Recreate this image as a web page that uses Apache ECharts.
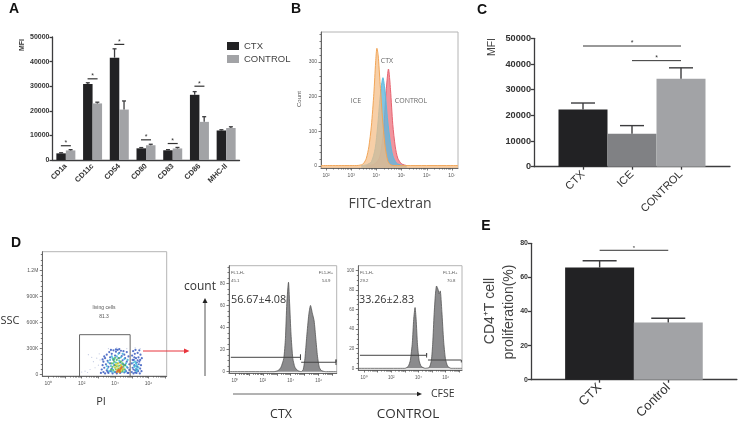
<!DOCTYPE html>
<html><head><meta charset="utf-8">
<style>html,body{margin:0;padding:0;background:#fff}#c{width:739px;height:425px}</style>
<script src="https://cdn.jsdelivr.net/npm/echarts@6/dist/echarts.min.js"></script>
</head><body><div id="c"></div>
<script>
// ---------- Panel A
const aCategories = ['CD1a','CD11c','CD54','CD80','CD83','CD86','MHC-II'];
const aCtx = [2700,30900,41600,4750,3950,26500,12000];
const aControl = [3900,23000,20500,6000,4700,15500,13000];
const aCtxTop = [2950,31400,45200,5050,4200,27800,12300];
const aControlTop = [4200,23500,24000,6400,5100,17600,13500];
const aSig = [[0,5800],[1,33000],[2,47000],[3,8200],[4,6700],[5,30000]];
// ---------- Panel B (x = decade of FITC signal)
const bIce = [[1.8,1],[3.2,1],[3.4,3],[3.5,8],[3.6,22],[3.7,55],[3.8,115],[3.9,210],[3.97,300],[4.02,340],[4.07,320],[4.15,235],[4.25,130],[4.35,55],[4.45,15],[4.55,4],[4.7,1],[7.24,1]];
const bCtx = [[3.4,1],[3.6,3],[3.8,12],[3.95,50],[4.05,115],[4.15,200],[4.26,255],[4.33,225],[4.45,130],[4.55,70],[4.65,30],[4.8,8],[5.0,2],[5.2,1]];
const bControl = [[3.6,1],[3.9,4],[4.1,20],[4.2,50],[4.3,115],[4.38,210],[4.48,280],[4.56,220],[4.65,120],[4.75,55],[4.85,22],[5,6],[5.2,1]];
// ---------- Panel C
const cCategories = ['CTX','ICE','CONTROL'];
const cValues = [22300,12800,34200];
const cTops = [24800,16000,38500];
const cSig = [[0,2,47000],[1,2,41300]];
// ---------- Panel D scatter (x = PI decade, y = SSC in K)
const dSparse = [[2.4,230],[2.7,150],[2.2,40],[2.5,60],[2.9,190],[3.0,110],[2.6,200],[2.8,80],[2.0,30],[3.1,170],[3.05,240],[2.35,25],[4.7,300],[5.2,310],[5.5,300],[4.1,310],[3.6,300]];
const dBlue = [[3.15,20],[3.2,60],[3.25,110],[3.3,30],[3.3,150],[3.35,80],[3.4,190],[3.4,15],[3.45,120],[3.5,50],[3.5,230],[3.55,160],[3.6,20],[3.6,90],[3.65,260],[3.7,200],[3.7,130],[3.75,40],[3.8,240],[3.8,70],[3.85,15],[3.9,280],[3.9,170],[3.95,110],[4.0,30],[4.0,220],[4.05,265],[4.1,15],[4.15,285],[4.2,190],[4.25,250],[4.3,20],[4.3,140],[4.35,275],[4.4,215],[4.45,60],[4.45,165],[4.5,270],[4.55,25],[4.55,230],[4.6,110],[4.6,190],[4.65,40],[4.7,150],[4.7,260],[4.75,80],[4.8,20],[4.8,210],[4.85,120],[4.85,55],[3.25,175],[3.35,210],[3.55,35],[3.75,285],[4.05,290],[4.25,295],[4.5,120],[4.75,20],
[5.0,30],[5.0,130],[5.02,220],[5.05,80],[5.08,270],[5.1,15],[5.12,170],[5.15,110],[5.18,240],[5.2,50],[5.22,285],[5.25,190],[5.28,20],[5.3,140],[5.32,90],[5.35,250],[5.38,40],[5.4,200],[5.42,120],[5.45,280],[5.48,15],[5.5,70],[5.5,170],[5.52,230],[5.55,110],[5.58,40],[5.6,190],[5.35,165],[5.2,25],[5.1,60],[5.3,60],[5.45,150],[5.15,200],[5.05,170]];
const dCyan = [[3.5,100],[3.55,70],[3.6,140],[3.65,40],[3.7,170],[3.75,100],[3.8,210],[3.85,60],[3.9,130],[3.95,180],[4.0,80],[4.05,140],[4.1,210],[4.15,50],[4.2,100],[4.25,160],[4.3,70],[4.35,200],[4.4,30],[4.4,120],[4.45,240],[4.5,80],[4.55,180],[4.6,60],[4.65,130],[4.7,90],[4.75,170],[3.8,35],[4.6,35],[3.95,30],[3.85,190],[4.2,240],
[5.15,90],[5.2,150],[5.25,70],[5.3,110],[5.35,60],[5.25,130],[5.4,85],[5.1,140],[5.28,40],[5.2,100]];
const dGreen = [[3.75,60],[3.8,130],[3.85,90],[3.9,50],[3.95,150],[4.0,110],[4.05,60],[4.1,170],[4.1,95],[4.15,130],[4.2,35],[4.2,70],[4.25,190],[4.3,105],[4.3,40],[4.35,150],[4.4,80],[4.45,130],[4.45,40],[4.5,100],[4.55,60],[3.9,175],[4.0,195],[4.6,110]];
const dYellow = [[4.0,85],[4.05,120],[4.1,60],[4.15,95],[4.2,130],[4.25,60],[4.3,80],[4.35,45],[4.35,110],[4.4,60],[4.25,30],[4.5,70]];
const dRed = [[4.15,40],[4.2,55],[4.25,45],[4.3,60],[4.35,75],[4.3,30],[4.4,90],[4.1,30]];
const dGate = [[1.87,-15],[1.87,460],[4.9,460],[4.9,-15]];
// ---------- Panel D histograms (x = CFSE decade)
const hCtx = [[-0.43,0],[2.8,0],[3.1,1],[3.3,4],[3.5,12],[3.62,30],[3.72,62],[3.84,81],[3.92,62],[4.02,34],[4.15,12],[4.3,4],[4.5,1],[4.75,0],[4.9,2],[5.02,12],[5.15,32],[5.3,52],[5.42,60],[5.55,53],[5.68,46],[5.8,30],[5.92,14],[6.05,4],[6.2,1],[6.5,0],[7.3,0]];
const hControl = [[-0.42,0],[3.0,0],[3.25,2],[3.4,8],[3.55,26],[3.65,50],[3.75,62],[3.83,50],[3.93,24],[4.05,8],[4.2,2],[4.5,0],[4.8,1],[4.95,8],[5.05,26],[5.15,55],[5.25,76],[5.33,84],[5.45,80],[5.52,76],[5.6,79],[5.72,58],[5.85,28],[5.98,10],[6.15,2],[6.4,0],[7.2,0]];
const hCtxGateL = [[-0.3,13],[4.7,13],[4.7,15.5],[4.7,10.5]];
const hCtxGateR = [[4.75,8.5],[7.25,8.5],[7.25,11],[7.25,6]];
const hCtlGateL = [[-0.3,13.3],[4.6,13.3],[4.6,15.5],[4.6,11]];
const hCtlGateR = [[4.7,8.5],[7.15,8.5],[7.15,10.5],[7.15,6]];
// ---------- Panel E
const eCategories = ['CTX','Control'];
const eValues = [65.8,33.5];
const eTops = [69.8,36];
const eSig = [[0,1,75.9]];

const DARK='#222224', GREY='#a2a3a6', MID='#808184', AXIS='#3c3c3e';
const ARIAL='"Liberation Sans",Arial,sans-serif', OPEN='"Open Sans",sans-serif';

const grids=[],xAxes=[],yAxes=[],series=[];

function barAxes(g,cats,yMax,yInt,xSize,ySize,opt){
  const blanks=opt.padded;
  const data=blanks?['',...cats,'']:cats;
  grids.push(g); const gi=grids.length-1;
  xAxes.push({gridIndex:gi,type:'category',data,boundaryGap:!blanks,
    axisLine:{lineStyle:{color:AXIS,width:opt.lw}},
    axisTick:{length:3,alignWithLabel:true,lineStyle:{color:AXIS,width:opt.lw},interval:(i,v)=>v!==''},
    axisLabel:{interval:0,rotate:45,fontFamily:ARIAL,fontSize:xSize,fontWeight:opt.xBold?'bold':'normal',color:'#333',margin:opt.xm||5}});
  yAxes.push({gridIndex:gi,type:'value',min:0,max:yMax,interval:yInt,splitLine:{show:false},
    axisLine:{show:true,lineStyle:{color:AXIS,width:opt.lw}},
    axisTick:{show:true,length:3,lineStyle:{color:AXIS,width:opt.lw}},
    axisLabel:{formatter:v=>String(v),fontFamily:ARIAL,fontSize:ySize,fontWeight:'bold',color:'#333',margin:3}});
  return xAxes.length-1;
}
function errSeries(ai,data,offset,cap,lw){
  series.push({type:'custom',xAxisIndex:ai,yAxisIndex:ai,z:3,clip:false,data,
    renderItem(p,api){
      const a=api.coord([api.value(0),api.value(1)]),b=api.coord([api.value(0),api.value(2)]);
      const x=a[0]+offset,st={stroke:AXIS,lineWidth:lw};
      return {type:'group',children:[
        {type:'line',shape:{x1:x,y1:a[1],x2:x,y2:b[1]},style:st},
        {type:'line',shape:{x1:x-cap,y1:b[1],x2:x+cap,y2:b[1]},style:st}]};
    }});
}
function sigSeries(ai,data,pad,lw,fs){
  series.push({type:'custom',xAxisIndex:ai,yAxisIndex:ai,z:4,clip:false,data,
    renderItem(p,api){
      const a=api.coord([api.value(0),api.value(2)]),b=api.coord([api.value(1),api.value(2)]);
      return {type:'group',children:[
        {type:'line',shape:{x1:a[0]-pad,y1:a[1],x2:b[0]+pad,y2:b[1]},style:{stroke:'#333',lineWidth:lw}},
        {type:'text',x:(a[0]+b[0])/2,y:a[1]-fs*0.35,style:{text:'*',fontFamily:ARIAL,fontSize:fs,fill:'#333',align:'center',verticalAlign:'middle'}}]};
    }});
}
const sup={0:'⁰',1:'¹',2:'²',3:'³',4:'⁴',5:'⁵',6:'⁶',7:'⁷'};
function flowAxes(g,xr,yr,xLab,xTick,xMinor,yLab,yMinor,yFmt,fs){
  grids.push(Object.assign({show:true,borderColor:'#b4b4b4',borderWidth:1,backgroundColor:'#fff'},g));
  const gi=grids.length-1;
  const base={gridIndex:gi,type:'value',splitLine:{show:false}};
  const tick=(len)=>({show:true,length:len,lineStyle:{color:'#555',width:.8}});
  const line={show:true,onZero:false,lineStyle:{color:'#666',width:1}};
  xAxes.push({...base,position:'bottom',min:xr[0],max:xr[1],axisLine:line,
    axisTick:{...tick(2.5),customValues:xTick},
    axisLabel:{customValues:xLab,formatter:v=>'10'+sup[v],fontFamily:ARIAL,fontSize:fs,color:'#555',margin:5}});
  const ai=xAxes.length-1;
  xAxes.push({...base,position:'bottom',min:xr[0],max:xr[1],axisLine:{show:false,onZero:false},axisTick:{...tick(1.5),customValues:xMinor},axisLabel:{show:false}});
  yAxes.push({...base,position:'left',min:yr[0],max:yr[1],axisLine:line,
    axisTick:{...tick(2.5),customValues:yLab},
    axisLabel:{customValues:yLab,formatter:yFmt||(v=>String(v)),fontFamily:ARIAL,fontSize:fs,color:'#555',margin:4}});
  yAxes.push({...base,position:'left',min:yr[0],max:yr[1],axisLine:{show:false,onZero:false},axisTick:{...tick(1.5),customValues:yMinor},axisLabel:{show:false}});
  return {x:ai,y:yAxes.length-2};
}
const minorOf=(a,b)=>{const o=[];for(let d=a;d<b;d++)[.3,.48,.6,.7,.78,.85,.9,.95].forEach(f=>o.push(+(d+f).toFixed(2)));return o;};

// ---- A
const aAi=barAxes({left:52.5,top:37,width:187,height:123},aCategories,50000,10000,7.5,7,{lw:1.3,xBold:true});
series.push({name:'CTX',type:'bar',xAxisIndex:aAi,yAxisIndex:aAi,data:aCtx,barWidth:9.5,barGap:0,itemStyle:{color:DARK}});
series.push({name:'CONTROL',type:'bar',xAxisIndex:aAi,yAxisIndex:aAi,data:aControl,barWidth:9.5,barGap:0,itemStyle:{color:GREY}});
errSeries(aAi,aCategories.map((c,i)=>[i,aCtx[i],aCtxTop[i]]),-4.75,2,1.3);
errSeries(aAi,aCategories.map((c,i)=>[i,aControl[i],aControlTop[i]]),4.75,2,1.3);
sigSeries(aAi,aSig.map(s=>[s[0],s[0],s[1]]),5,1.2,7);

// ---- C
const cAi=barAxes({left:534,top:38.3,width:196,height:128.4},cCategories,50000,10000,11,9.2,{lw:1.3,padded:true,xm:6});
series.push({type:'bar',xAxisIndex:cAi,yAxisIndex:cAi,barWidth:49,
  data:[null,...cValues.map((v,i)=>({value:v,itemStyle:{color:[DARK,MID,GREY][i]}})),null]});
errSeries(cAi,cValues.map((v,i)=>[i+1,v,cTops[i]]),0,12,1.4);
sigSeries(cAi,cSig.map(s=>[s[0]+1,s[1]+1,s[2]]),0,1,7);

// ---- E
const eAi=barAxes({left:531,top:243.3,width:207,height:136.4},eCategories,80,20,13,7,{lw:1.3,padded:true,xm:6});
series.push({type:'bar',xAxisIndex:eAi,yAxisIndex:eAi,barWidth:69,
  data:[null,...eValues.map((v,i)=>({value:v,itemStyle:{color:[DARK,GREY][i]}})),null]});
errSeries(eAi,eValues.map((v,i)=>[i+1,v,eTops[i]]),0,17,1.4);
sigSeries(eAi,eSig.map(s=>[s[0]+1,s[1]+1,s[2]]),0,1,6);

// ---- B
const bA=flowAxes({left:321,top:32,width:137,height:136},[1.8,7.24],[-6,387],[2,3,4,5,6,7],[2,3,4,5,6,7],minorOf(2,7),[0,100,200,300],[20,40,60,80,120,140,160,180,220,240,260,280,320,340,360,380],null,5);
const curve=(d,line,fill,op,z)=>series.push({type:'line',xAxisIndex:bA.x,yAxisIndex:bA.y,data:d,smooth:.25,symbol:'none',z,
  lineStyle:{color:line,width:1},areaStyle:{color:fill,opacity:op,origin:-6}});
curve(bControl,'#e8626f','#ee7b86',.8,2);
curve(bCtx,'#5bbce0','#62b6dc',.8,3);
curve(bIce,'#f2a658','#f4bd85',.72,4);

// ---- D scatter
const dA=flowAxes({left:42.3,top:251.7,width:124.4,height:124.3},[-0.36,7.09],[-15,1414],[0,2,4,6],[0,1,2,3,4,5,6,7],minorOf(0,7),[0,300,600,900,1200],[60,120,180,240,360,420,480,540,660,720,780,840,960,1020,1080,1140,1260,1320,1380],v=>v===0?'0':v>=1200?'1.2M':v+'K',5);
[[dSparse,'#b7bfdc'],[dBlue,'#3a5cc0'],[dCyan,'#3fb6d8'],[dGreen,'#4fbb58'],[dYellow,'#e5d332'],[dRed,'#e2682a']].forEach(([d,c],i)=>
  series.push({type:'scatter',xAxisIndex:dA.x,yAxisIndex:dA.y,data:d,symbolSize:i===0?1.2:2.2,z:2+i,itemStyle:{color:c,opacity:.85}}));
series.push({type:'line',xAxisIndex:dA.x,yAxisIndex:dA.y,data:dGate,symbol:'none',z:9,lineStyle:{color:'#666',width:1}});

// ---- D histograms
function histo(a,d,gl,gr){
  series.push({type:'line',xAxisIndex:a.x,yAxisIndex:a.y,data:d,smooth:.2,symbol:'none',z:2,lineStyle:{color:'#555',width:.8},areaStyle:{color:'#8b8b8d',opacity:1}});
  [gl,gr].forEach(g=>series.push({type:'line',xAxisIndex:a.x,yAxisIndex:a.y,data:g,symbol:'none',z:3,lineStyle:{color:'#444',width:1}}));
}
const h1=flowAxes({left:229,top:265.7,width:107.7,height:107.6},[-0.43,7.3],[-1.5,96],[0,2,4,6],[0,1,2,3,4,5,6,7],minorOf(0,7),[0,20,40,60,80],[5,10,15,25,30,35,45,50,55,65,70,75,85,90,95],null,4.5);
histo(h1,hCtx,hCtxGateL,hCtxGateR);
const h2=flowAxes({left:358.3,top:265.7,width:103.7,height:104.3},[-0.42,7.2],[-1.7,104.7],[0,2,4,6],[0,1,2,3,4,5,6,7],minorOf(0,7),[0,20,40,60,80,100],[5,10,15,25,30,35,45,50,55,65,70,75,85,90,95],null,4.5);
histo(h2,hControl,hCtlGateL,hCtlGateR);

// ---- text & arrows
const T=(x,y,text,size,o={})=>({type:'text',x,y,z:20,rotation:o.rot||0,silent:true,style:{text,fontFamily:o.f||OPEN,fontSize:size,fontWeight:o.w||'normal',fill:o.c||'#333',align:o.a||'center',verticalAlign:'middle'}});
const L=(x1,y1,x2,y2,c,w)=>({type:'line',z:20,silent:true,shape:{x1,y1,x2,y2},style:{stroke:c,lineWidth:w}});
const P=(pts,c)=>({type:'polygon',z:20,silent:true,shape:{points:pts},style:{fill:c}});
const R=Math.PI/2, B={f:ARIAL,w:'bold',c:'#111'};
const graphic=[
  T(14,9,'A',14,B),T(296,9,'B',14,B),T(482,10,'C',14,B),T(16,243,'D',14,B),T(486,226,'E',14,B),
  T(22,45,'MFI',7,{f:ARIAL,w:'bold',rot:R}),
  T(492,47,'MFI',10.5,{f:ARIAL,rot:R,c:'#444'}),
  T(490,311,'CD4⁺T cell',14,{f:ARIAL,rot:R,c:'#444'}),
  T(509,312,'proliferation(%)',14,{f:ARIAL,rot:R,c:'#444'}),
  T(390,204,'FITC-dextran',14,{c:'#444'}),
  T(299,99,'Count',6,{f:ARIAL,rot:R,c:'#555'}),
  T(356,101,'ICE',7,{c:'#666'}),T(387,61,'CTX',7,{c:'#666'}),T(411,101,'CONTROL',7,{c:'#666'}),
  T(104,308,'living cells',5,{f:ARIAL,c:'#555'}),T(104,317,'81.3',5,{f:ARIAL,c:'#555'}),
  T(10,321,'SSC',11,{}),T(101,402,'PI',11,{}),
  T(200,287,'count',12,{}),
  T(231,273,'FL1-H-',4.3,{f:ARIAL,a:'left',c:'#555'}),T(231,281,'45.1',4.3,{f:ARIAL,a:'left',c:'#555'}),
  T(326,273,'FL1-H+',4.3,{f:ARIAL,c:'#555'}),T(322,281,'54.9',4.3,{f:ARIAL,a:'left',c:'#555'}),
  T(231,300,'56.67±4.08',10.8,{a:'left'}),
  T(360,273,'FL1-H-',4.3,{f:ARIAL,a:'left',c:'#555'}),T(360,281,'29.2',4.3,{f:ARIAL,a:'left',c:'#555'}),
  T(443,273,'FL1-H+',4.3,{f:ARIAL,a:'left',c:'#555'}),T(447,281,'70.8',4.3,{f:ARIAL,a:'left',c:'#555'}),
  T(359,300,'33.26±2.83',10.8,{a:'left'}),
  T(431,394,'CFSE',10.5,{a:'left'}),T(281,414,'CTX',12.5,{}),T(408,414,'CONTROL',13.5,{}),
  L(143,351,184,351,'#e8343c',1),P([[184,348.5],[189.5,351],[184,353.5]],'#e8343c'),
  L(205,376,205,302,'#555',1),P([[202.5,303],[205,298],[207.5,303]],'#222'),
  L(233,394,417,394,'#666',1),P([[417,391.7],[422,394],[417,396.3]],'#222')
];

const chart=echarts.init(document.getElementById('c'),null,{renderer:'canvas'});
chart.setOption({animation:false,backgroundColor:'#fff',grid:grids,xAxis:xAxes,yAxis:yAxes,series,graphic:{elements:graphic},
  legend:{data:['CTX','CONTROL'],orient:'vertical',left:227,top:41,itemWidth:12,itemHeight:8,itemGap:3,icon:'rect',padding:0,
    textStyle:{fontFamily:ARIAL,fontSize:9.5,color:'#444'}}});
</script></body></html>
